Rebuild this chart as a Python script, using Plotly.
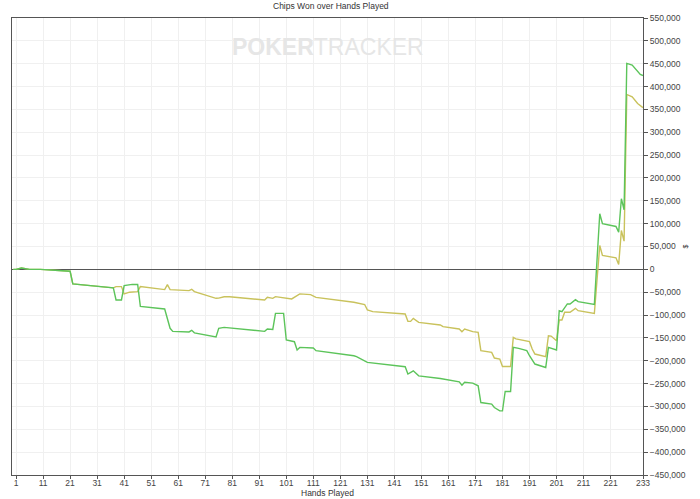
import plotly.graph_objects as go

# ---- data ----
hands_green = [0, 1, 3, 4, 6, 10, 21, 22, 37, 38, 40, 41, 44, 46, 47, 56, 58, 59, 65, 66, 67, 75, 76,
               78, 80, 93, 94, 96, 97, 100, 101, 104, 105, 106, 111, 112, 126, 127, 131, 145, 146,
               148, 150, 158, 165, 166, 167, 170, 172, 173, 177, 178, 180, 181, 182, 184, 185, 187,
               190, 191, 193, 197, 198, 201, 202, 203, 205, 206, 208, 209, 215, 217, 218, 223, 224,
               225, 226, 227, 229, 230, 232, 233]
chips_green = [0, 0, 3000, 2000, 0, 0, -4000, -32000, -40500, -67000, -67000, -35500, -33000, -33000,
               -81000, -86700, -129000, -135700, -137000, -133500, -139000, -148000, -129000,
               -127000, -128000, -135700, -130500, -131500, -96300, -96300, -154600, -158300,
               -176500, -170800, -172000, -178000, -189000, -191000, -203700, -213000, -229000,
               -222000, -233000, -238800, -246000, -253300, -247000, -249000, -254800, -291400,
               -295000, -302400, -309700, -309700, -267300, -267300, -170800, -173000, -178000,
               -189000, -207200, -214700, -170800, -176500, -90400, -92500, -75700, -75700, -66200,
               -70600, -77000, 121700, 99800, 93900, 81400, 154600, 130500, 450700, 447000, 440000,
               426500, 424000]

hands_yellow = [0, 1, 3, 4, 6, 10, 21, 22, 37, 38, 40, 41, 43, 46, 47, 56, 57, 58, 65, 66, 67, 75, 76,
                78, 80, 93, 94, 96, 97, 103, 106, 110, 112, 126, 130, 131, 133, 145, 146, 147, 148,
                150, 158, 159, 161, 165, 166, 167, 170, 172, 173, 177, 178, 180, 181, 184, 185, 186,
                191, 192, 193, 197, 198, 199, 201, 202, 203, 204, 206, 208, 209, 215, 217, 218, 223,
                224, 225, 226, 227, 229, 231, 233]
chips_yellow = [0, 0, 3000, 2000, 0, 0, -4000, -32000, -40500, -37700, -37700, -53700, -50000, -48700,
                -37700, -44300, -33300, -44300, -46500, -43600, -48700, -63400, -63000, -60000,
                -60000, -67000, -61000, -63500, -59700, -64700, -53700, -55300, -61200, -72100,
                -77000, -88800, -92500, -97600, -113800, -113800, -107200, -116000, -121700,
                -125400, -127000, -130500, -136400, -130500, -136400, -137900, -178000, -181800,
                -194000, -196300, -212500, -212500, -148900, -152000, -158300, -174400, -185300,
                -191200, -145200, -146000, -156100, -110700, -110700, -94000, -94000, -85300,
                -90400, -96300, 52200, 30300, 25200, 10500, 85100, 61600, 382700, 377400, 363000,
                354000]

x_ticks = [1, 11, 21, 31, 41, 51, 61, 71, 81, 91, 101, 111, 121, 131, 141, 151, 161, 171, 181,
           191, 201, 211, 221, 233]
y_ticks = list(range(-450000, 550001, 50000))

FONT = "Liberation Sans, Arial, sans-serif"
FS = 8.5

fig = go.Figure()
fig.add_trace(go.Scatter(x=hands_yellow, y=chips_yellow, mode="lines",
                         line=dict(color="#c9c25c", width=1.4), showlegend=False))
fig.add_trace(go.Scatter(x=hands_green, y=chips_green, mode="lines",
                         line=dict(color="#5cc45a", width=1.4), showlegend=False))

# watermark
fig.add_annotation(text="<b>POKER</b>TRACKER", xref="paper", yref="paper", x=0.5, y=0.937,
                   showarrow=False, xanchor="center", yanchor="middle",
                   font=dict(family="Liberation Sans, Arial", size=23, color="#e6e6e6"))
# title
fig.add_annotation(text="Chips Won over Hands Played", xref="paper", yref="paper", x=0.505, y=1.026,
                   showarrow=False, xanchor="center", yanchor="middle",
                   font=dict(family=FONT, size=FS, color="#333"))
# x-axis title
fig.add_annotation(text="Hands Played", xref="paper", yref="paper", x=0.5, y=-0.039,
                   showarrow=False, xanchor="center", yanchor="middle",
                   font=dict(family=FONT, size=FS, color="#333"))
# y-axis title
fig.add_annotation(text="$", xref="paper", yref="paper", x=1.068, y=0.5, textangle=-90,
                   showarrow=False, xanchor="center", yanchor="middle",
                   font=dict(family=FONT, size=7, color="#333"))

fig.update_layout(
    width=700, height=499,
    margin=dict(l=12, r=57, t=18, b=24, autoexpand=False),
    paper_bgcolor="white", plot_bgcolor="white",
    font=dict(family=FONT, size=FS, color="#444"),
    xaxis=dict(range=[-0.5, 233], tickvals=x_ticks, ticktext=[str(t) for t in x_ticks],
               automargin=False,
               showgrid=True, gridcolor="#f0f0f0", gridwidth=1,
               showline=True, linecolor="#555", linewidth=1.2, mirror=True,
               ticks="outside", ticklen=3, tickcolor="#555", zeroline=False,
               ticklabelstandoff=-3,
               tickfont=dict(family=FONT, size=FS, color="#444")),
    yaxis=dict(range=[-450000, 550000], tickvals=y_ticks, tickformat=",d", side="right",
               automargin=False,
               showgrid=True, gridcolor="#f0f0f0", gridwidth=1,
               showline=True, linecolor="#555", linewidth=1.2, mirror=True,
               ticks="outside", ticklen=4, tickcolor="#555",
               zeroline=True, zerolinecolor="#555", zerolinewidth=1.2,
               tickfont=dict(family=FONT, size=FS, color="#444")),
)

# remove the default 8px page margin so the figure sits at the window's top-left corner
fig.write_html("out.html", config={"displayModeBar": False},
               post_script="document.body.style.margin='0px';")
